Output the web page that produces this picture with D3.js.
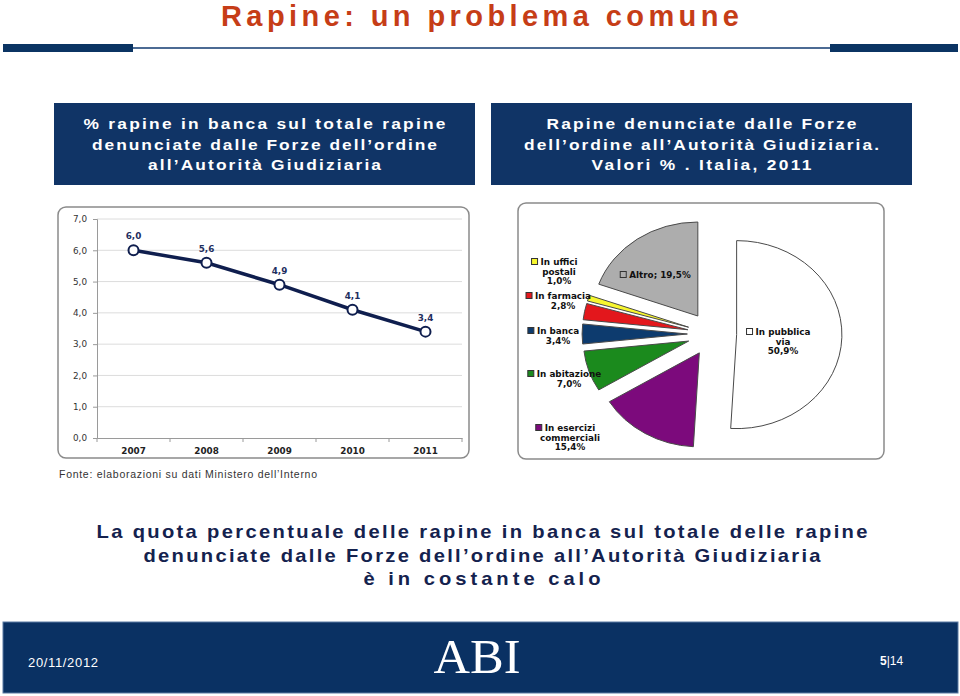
<!DOCTYPE html>
<html><head><meta charset="utf-8">
<script src="https://cdn.jsdelivr.net/npm/d3@7/dist/d3.min.js"></script>
<style>html,body{margin:0;padding:0;background:#fff;}svg{display:block;}</style>
</head><body>
<script>
// ---------- DATA ----------
const years = ["2007", "2008", "2009", "2010", "2011"];
const bankShare = [6.0, 5.6, 4.9, 4.1, 3.4];
const yTicks = [0, 1, 2, 3, 4, 5, 6, 7];

const pieLabels = ["In pubblica via", "In esercizi commerciali", "In abitazione", "In banca", "In farmacia", "In uffici postali", "Altro"];
const pieValues = [50.9, 15.4, 7.0, 3.4, 2.8, 1.0, 19.5];
const pieColors = ["#FFFFFF", "#7C0A7C", "#1B8A1D", "#0D3B6E", "#E3171C", "#F7F62E", "#ADADAD"];
// label text lines (first line gets the legend key)
const pieLabelLines = [
  ["In pubblica", "via", "50,9%"],
  ["In esercizi", "commerciali", "15,4%"],
  ["In abitazione", "7,0%"],
  ["In banca", "3,4%"],
  ["In farmacia", "2,8%"],
  ["In uffici", "postali", "1,0%"],
  ["Altro; 19,5%"]
];

// ---------- LAYOUT ----------
const W = 960, H = 696;
const svg = d3.select("body").append("svg").attr("width", W).attr("height", H);
const navy = "#103466";

// stretched / spaced text helper
function stext(parent, cx, y, txt, o) {
  const sx = o.sx || 1;
  const g = parent.append("g").attr("transform", `translate(${cx},${y}) scale(${sx},1)`);
  const t = g.append("text").attr("x", 0).attr("y", 0).attr("text-anchor", o.anchor || "middle")
    .attr("font-family", o.family || "'Liberation Sans',Arial,sans-serif")
    .attr("font-weight", o.weight || "normal").attr("font-size", o.size).attr("fill", o.fill || "#000");
  if (o.width) t.attr("textLength", o.width / sx).attr("lengthAdjust", o.adjust || "spacing");
  t.text(txt);
  return t;
}

// Title
stext(svg, 480, 26, "Rapine: un problema comune",
  {size: 29, weight: "bold", fill: "#C63D17", width: 518,
   family: "'Liberation Sans Narrow','Liberation Sans',Arial,sans-serif"});

// header rule
svg.append("rect").attr("x", 3).attr("y", 47).attr("width", 955).attr("height", 2).attr("fill", "#4C6B94");
svg.append("rect").attr("x", 3).attr("y", 44).attr("width", 130).attr("height", 8).attr("fill", "#0B3463");
svg.append("rect").attr("x", 830).attr("y", 44).attr("width", 128).attr("height", 8).attr("fill", "#0B3463");

// header boxes
function headerBox(x, lines, widths) {
  svg.append("rect").attr("x", x).attr("y", 103).attr("width", 421).attr("height", 82).attr("fill", navy);
  lines.forEach((t, i) => {
    stext(svg, x + 210.5, 129 + i * 20.5, t, {sx: 1.12, size: 15.5, weight: "bold", fill: "#fff", width: widths[i]});
  });
}
headerBox(54, ["% rapine in banca sul totale rapine", "denunciate dalle Forze dell\u2019ordine", "all\u2019Autorità Giudiziaria"], [362, 345, 233]);
headerBox(491, ["Rapine denunciate dalle Forze", "dell\u2019ordine all\u2019Autorità Giudiziaria.", "Valori % . Italia, 2011"], [310, 355, 220]);

// ---------- LINE CHART ----------
svg.append("rect").attr("x", 58).attr("y", 207).attr("width", 411).attr("height", 251).attr("rx", 8)
  .attr("fill", "#fff").attr("stroke", "#8a8a8a").attr("stroke-width", 1.5);

const x = d3.scaleBand().domain(years).range([97, 462]);
const y = d3.scaleLinear().domain([0, 7]).range([438, 219]);
const lc = svg.append("g");

lc.append("g").selectAll("line").data(yTicks.filter(d => d > 0)).join("line")
  .attr("x1", 97).attr("x2", 462).attr("y1", d => y(d)).attr("y2", d => y(d))
  .attr("stroke", "#dcdcdc").attr("stroke-width", 1);

const yAxis = lc.append("g").attr("transform", "translate(97,0)")
  .call(d3.axisLeft(y).tickValues(yTicks).tickSize(4).tickPadding(6).tickFormat(d => d3.format(".1f")(d).replace(".", ",")));
const xAxis = lc.append("g").attr("transform", "translate(0,438)")
  .call(d3.axisBottom(x).tickSize(0).tickPadding(10));
[yAxis, xAxis].forEach(g => {
  g.select(".domain").attr("stroke", "#9a9a9a");
  g.selectAll(".tick line").attr("stroke", "#9a9a9a");
  g.selectAll("text").attr("font-family", "'DejaVu Sans',Verdana,sans-serif").attr("font-size", 8.8).attr("fill", "#333");
});
xAxis.selectAll("text").attr("font-weight", "bold").attr("fill", "#222");
lc.append("g").selectAll("line").data(years.concat(["end"])).join("line")
  .attr("x1", (d, i) => 97 + i * x.step()).attr("x2", (d, i) => 97 + i * x.step())
  .attr("y1", 438).attr("y2", 442).attr("stroke", "#9a9a9a");

const cx = d => x(d) + x.bandwidth() / 2;
lc.append("path").datum(bankShare)
  .attr("d", d3.line().x((d, i) => cx(years[i])).y(d => y(d)))
  .attr("fill", "none").attr("stroke", "#0F1E4E").attr("stroke-width", 3.5);
lc.append("g").selectAll("circle").data(bankShare).join("circle")
  .attr("cx", (d, i) => cx(years[i])).attr("cy", d => y(d)).attr("r", 5)
  .attr("fill", "#fff").attr("stroke", "#0F1E4E").attr("stroke-width", 2);
lc.append("g").selectAll("text").data(bankShare).join("text")
  .attr("x", (d, i) => cx(years[i])).attr("y", d => y(d) - 11).attr("text-anchor", "middle")
  .attr("font-family", "'DejaVu Sans',Verdana,sans-serif").attr("font-weight", "bold")
  .attr("font-size", 8.8).attr("fill", "#1F2F5F")
  .text(d => d3.format(".1f")(d).replace(".", ","));

// ---------- PIE CHART ----------
svg.append("rect").attr("x", 518).attr("y", 203).attr("width", 366).attr("height", 256).attr("rx", 8)
  .attr("fill", "#fff").attr("stroke", "#8a8a8a").attr("stroke-width", 1.5);

const pieData = d3.pie().sort(null).value(d => d)(pieValues);
const R = 94, explode = 22;
const arc = d3.arc().innerRadius(0).outerRadius(R);
const pg = svg.append("g").attr("transform", "translate(712,334) scale(1.12,1)");
pg.selectAll("path").data(pieData).join("path")
  .attr("transform", d => {
    const m = (d.startAngle + d.endAngle) / 2;
    return `translate(${Math.sin(m) * explode},${-Math.cos(m) * explode})`;
  })
  .attr("d", arc)
  .attr("fill", (d, i) => pieColors[i])
  .attr("stroke", "#4a4a4a").attr("stroke-width", 1).attr("vector-effect", "non-scaling-stroke");

// label placement (layout only): center x of text block, first baseline y
const labelLayout = [
  {x: 783, y: 335},
  {x: 570, y: 431},
  {x: 569, y: 377},
  {x: 558, y: 334},
  {x: 563, y: 299},
  {x: 559, y: 265},
  {x: 660, y: 278}
];
const lg = svg.append("g").attr("font-family", "'DejaVu Sans',Verdana,sans-serif")
  .attr("font-weight", "bold").attr("font-size", 8.8).attr("fill", "#111");
pieLabelLines.forEach((lines, i) => {
  const L = labelLayout[i];
  let first;
  lines.forEach((t, j) => {
    const tx = lg.append("text").attr("x", L.x).attr("y", L.y + j * 9.5)
      .attr("text-anchor", "middle").text(t);
    if (j === 0) first = tx;
  });
  const len = first.node().getComputedTextLength();
  lg.append("rect").attr("x", L.x - len / 2 - 9).attr("y", L.y - 6.5).attr("width", 6).attr("height", 6)
    .attr("fill", pieColors[i]).attr("stroke", "#333").attr("stroke-width", 1);
});

// source
svg.append("text").attr("x", 59).attr("y", 478)
  .attr("font-family", "'Liberation Sans',Arial,sans-serif").attr("font-size", 10.5).attr("fill", "#333")
  .attr("textLength", 258).attr("lengthAdjust", "spacing")
  .text("Fonte: elaborazioni su dati Ministero dell\u2019Interno");

// body text
const body = ["La quota percentuale delle rapine in banca sul totale delle rapine",
  "denunciate dalle Forze dell\u2019ordine all\u2019Autorità Giudiziaria",
  "è in costante calo"];
const bodyW = [771, 677, 237];
body.forEach((t, i) => {
  stext(svg, 482, 538 + i * 23.5, t, {sx: 1.12, size: 18, weight: "bold", fill: "#14224E", width: bodyW[i]});
});

// footer bar
svg.append("rect").attr("x", 3).attr("y", 622).attr("width", 955).attr("height", 71).attr("fill", "#0A3163")
  .attr("stroke", "#5A7BA3").attr("stroke-width", 1);
stext(svg, 28, 667, "20/11/2012", {size: 13, fill: "#fff", anchor: "start", width: 70,
  family: "'Liberation Sans Narrow','Liberation Sans',Arial,sans-serif"});
svg.append("text").attr("x", 477).attr("y", 673).attr("text-anchor", "middle")
  .attr("font-family", "'Liberation Serif','Times New Roman',serif").attr("font-size", 48).attr("fill", "#fff")
  .attr("textLength", 87).attr("lengthAdjust", "spacingAndGlyphs").text("ABI");
const pn = svg.append("text").attr("x", 880).attr("y", 665)
  .attr("font-family", "'Liberation Sans Narrow','Liberation Sans',Arial,sans-serif").attr("font-size", 12).attr("fill", "#fff");
pn.append("tspan").attr("font-weight", "bold").text("5");
pn.append("tspan").text("|14");
</script>
</body></html>
